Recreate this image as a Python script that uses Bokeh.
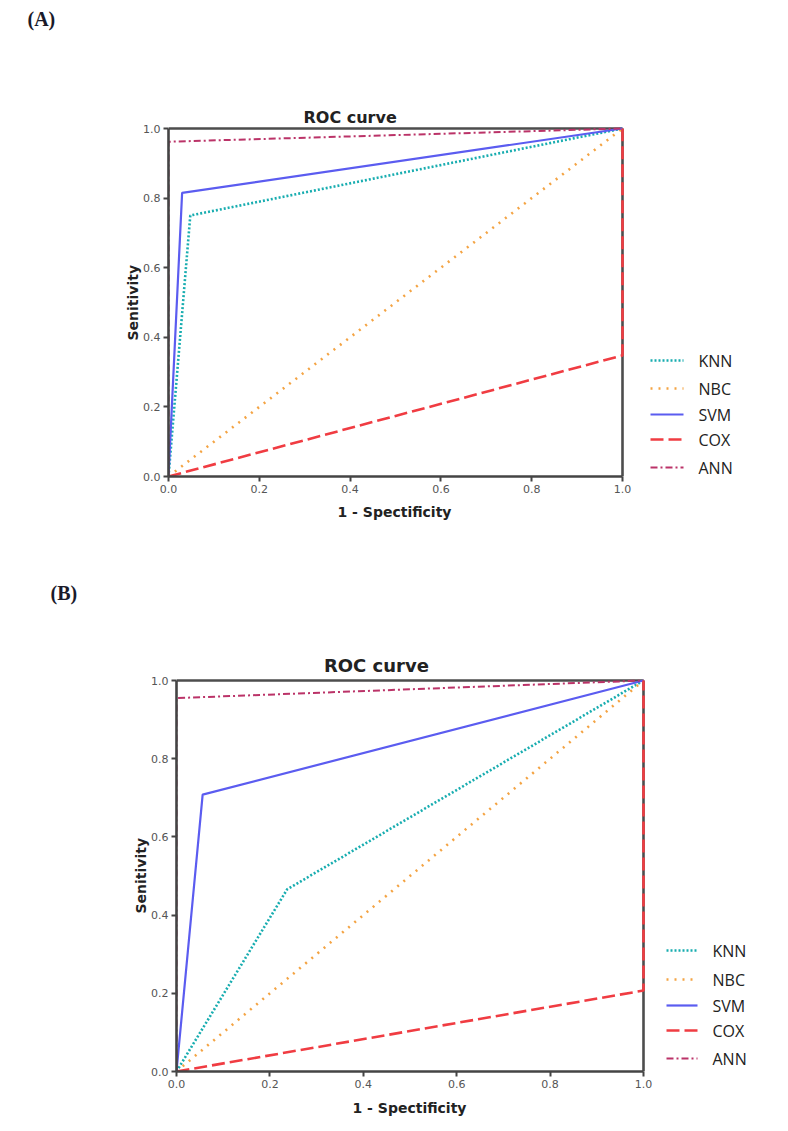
from bokeh.plotting import figure
from bokeh.models import Title, FixedTicker, Range1d, PrintfTickFormatter
from bokeh.embed import file_html
from bokeh.resources import INLINE
from bokeh.core.properties import value

# ---------------- data ----------------
METHODS = ["KNN", "NBC", "SVM", "COX", "ANN"]
TICKS = [0.0, 0.2, 0.4, 0.6, 0.8, 1.0]
X_LABEL = "1 - Spectificity"
Y_LABEL = "Senitivity"
CHART_TITLE = "ROC curve"

# Panel (A)
A_KNN_X = [0.0, 0.048, 1.0]
A_KNN_Y = [0.0, 0.75, 1.0]
A_NBC_X = [0.0, 1.0]
A_NBC_Y = [0.0, 1.0]
A_SVM_X = [0.0, 0.03, 1.0]
A_SVM_Y = [0.0, 0.815, 1.0]
A_COX_X = [0.0, 1.0, 1.0]
A_COX_Y = [0.0, 0.348, 1.0]
A_ANN_X = [0.0, 0.0, 1.0]
A_ANN_Y = [0.0, 0.962, 1.0]

# Panel (B)
B_KNN_X = [0.0, 0.237, 1.0]
B_KNN_Y = [0.0, 0.466, 1.0]
B_NBC_X = [0.0, 1.0]
B_NBC_Y = [0.0, 1.0]
B_SVM_X = [0.0, 0.056, 1.0]
B_SVM_Y = [0.0, 0.708, 1.0]
B_COX_X = [0.0, 1.0, 1.0]
B_COX_Y = [0.0, 0.207, 1.0]
B_ANN_X = [0.0, 0.0, 1.0]
B_ANN_Y = [0.0, 0.955, 1.0]

STYLES = {
    "KNN": dict(line_color="#18adb0", line_width=2.6, line_dash="2 2"),
    "NBC": dict(line_color="#f4a444", line_width=2.6, line_dash="2 6"),
    "SVM": dict(line_color="#5b5cf0", line_width=2.2, line_dash="solid"),
    "COX": dict(line_color="#f03c42", line_width=2.6, line_dash="13 5"),
    "ANN": dict(line_color="#bb3368", line_width=2.0, line_dash="7 3 2 3"),
}
FRAME_COLOR = "#4d4d4d"
AXIS_FONT = "DejaVu Sans"


def make_panel(series, cfg):
    W, H = cfg["width"], cfg["height"]
    left, top, bottom = cfg["left"], cfg["top"], cfg["bottom"]
    x_px, y_px = cfg["x_px"], cfg["y_px"]          # pixels per unit
    frame_w = W - left
    frame_h = H - top - bottom
    x_end = frame_w / x_px
    y_end = frame_h / y_px
    p = figure(width=W, height=H, output_backend="svg", toolbar_location=None,
               x_range=Range1d(0, x_end), y_range=Range1d(0, y_end),
               min_border_left=left, min_border_right=0,
               min_border_top=top, min_border_bottom=bottom)
    p.grid.visible = False
    p.background_fill_color = "white"
    p.border_fill_color = "white"
    p.outline_line_color = None

    # top and right edges of the plot box (drawn first, curves lie over them)
    p.line([0, 1], [1, 1], line_color=FRAME_COLOR, line_width=2.6)
    p.line([1, 1], [0, 1], line_color=FRAME_COLOR, line_width=2.6)

    # curves
    for name in METHODS:
        xs, ys = series[name]
        p.line(xs, ys, line_cap="butt", **STYLES[name])

    for ax in (p.xaxis[0], p.yaxis[0]):
        ax.bounds = (0, 1)
        ax.ticker = FixedTicker(ticks=TICKS)
        ax.formatter = PrintfTickFormatter(format="%.1f")
        ax.axis_line_color = "#444444"
        ax.axis_line_width = 2.6
        ax.major_tick_line_color = "#444444"
        ax.major_tick_line_width = 2
        ax.major_tick_out = 5
        ax.major_tick_in = 0
        ax.minor_tick_line_color = None
        ax.major_label_text_font = AXIS_FONT
        ax.major_label_text_font_size = "11px"
        ax.major_label_text_color = "#555555"
        ax.major_label_standoff = 3

    # axis titles, centred on the 0-1 plot box
    p.add_layout(Title(text=X_LABEL, align="left", vertical_align="top",
                       offset=cfg["xlab_offset"], standoff=cfg["xlab_standoff"],
                       text_font=AXIS_FONT, text_font_style="bold", text_font_size="14px",
                       text_color="#222222"), "below")
    p.add_layout(Title(text=Y_LABEL, align="left", vertical_align="bottom",
                       offset=cfg["ylab_offset"], standoff=0,
                       text_font=AXIS_FONT, text_font_style="bold", text_font_size="14px",
                       text_color="#222222"), "left")

    # legend drawn beside the plot box (pixel offsets converted to data units)
    gx0 = cfg["leg_x"] / x_px
    gx1 = (cfg["leg_x"] + cfg["leg_w"]) / x_px
    tx = (cfg["leg_x"] + cfg["leg_w"] + 15) / x_px
    rows_y = [(frame_h - (r - top)) / y_px for r in cfg["leg_rows"]]
    for name, yy in zip(METHODS, rows_y):
        p.line([gx0, gx1], [yy, yy], line_cap="butt", **STYLES[name])
    p.text(x=[tx] * len(METHODS), y=rows_y, text=METHODS, text_baseline="middle",
           text_align="left", text_font=value("Open Sans"), text_font_size="16px",
           text_color="#222222")

    # chart title
    p.text(x=[cfg["title_x"]], y=[cfg["title_y"]], text=[CHART_TITLE], text_align="center",
           text_baseline="middle", text_font=value(AXIS_FONT),
           text_font_style="bold", text_font_size=cfg["title_size"], text_color="#222222")

    # panel letter
    p.title.text = cfg["label"]
    p.title.align = "left"
    p.title.vertical_align = "top"
    p.title.offset = cfg["label_offset"]
    p.title.standoff = 10
    p.title.text_font = "Liberation Serif"
    p.title.text_font_style = "bold"
    p.title.text_font_size = "20px"
    p.title.text_color = "#1a1a2a"
    return p


series_a = {"KNN": (A_KNN_X, A_KNN_Y), "NBC": (A_NBC_X, A_NBC_Y), "SVM": (A_SVM_X, A_SVM_Y),
            "COX": (A_COX_X, A_COX_Y), "ANN": (A_ANN_X, A_ANN_Y)}
series_b = {"KNN": (B_KNN_X, B_KNN_Y), "NBC": (B_NBC_X, B_NBC_Y), "SVM": (B_SVM_X, B_SVM_Y),
            "COX": (B_COX_X, B_COX_Y), "ANN": (B_ANN_X, B_ANN_Y)}

cfg_a = dict(width=780, height=560, left=168, top=36, bottom=84, x_px=454, y_px=348,
             leg_x=482, leg_w=33, leg_rows=[360, 388, 414, 439, 467],
             title_x=0.40, title_y=1.032, title_size="16px",
             label="(A)", label_offset=-141,
             xlab_offset=169, xlab_standoff=16, ylab_offset=136)
cfg_b = dict(width=780, height=569, left=176, top=50, bottom=58, x_px=467, y_px=391,
             leg_x=490, leg_w=31, leg_rows=[390, 419, 445, 470, 498],
             title_x=0.428, title_y=1.038, title_size="18px",
             label="(B)", label_offset=-126,
             xlab_offset=176, xlab_standoff=18, ylab_offset=158)

pa = make_panel(series_a, cfg_a)
pb = make_panel(series_b, cfg_b)

open("out.html", "w").write(file_html([pa, pb], INLINE))
